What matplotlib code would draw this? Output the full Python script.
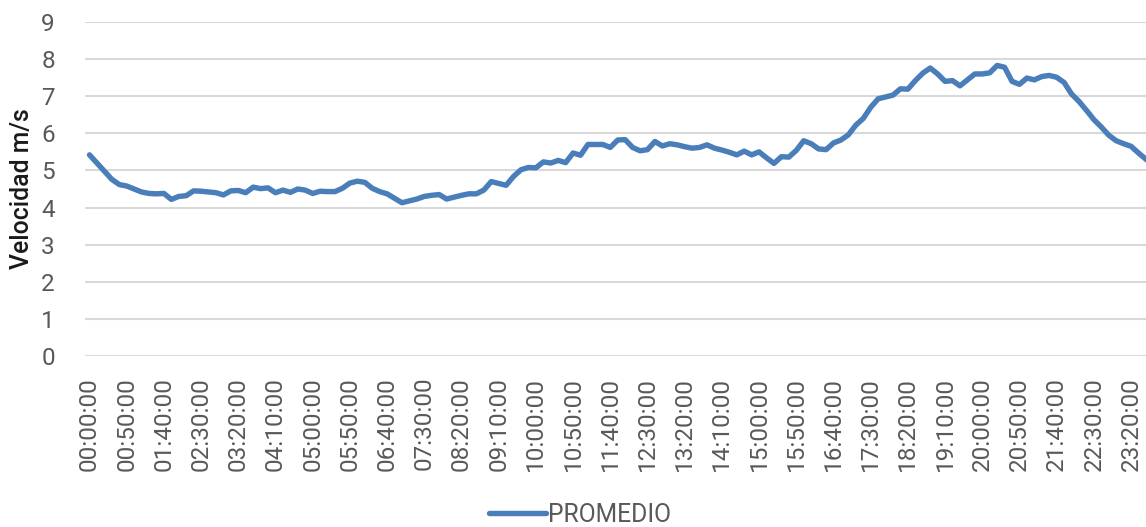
import matplotlib
matplotlib.use("Agg")
import matplotlib.pyplot as plt

plt.rcParams['font.family'] = ['Roboto', 'DejaVu Sans']

# 10-minute averages of wind speed (m/s), 00:00 .. 23:50
promedio = [
    5.42, 5.20, 4.98, 4.76, 4.62, 4.58, 4.50, 4.42, 4.38, 4.37,
    4.38, 4.22, 4.30, 4.32, 4.45, 4.44, 4.42, 4.40, 4.34, 4.45,
    4.46, 4.40, 4.55, 4.51, 4.53, 4.40, 4.47, 4.41, 4.50, 4.47,
    4.38, 4.44, 4.43, 4.43, 4.52, 4.66, 4.71, 4.68, 4.52, 4.43,
    4.37, 4.25, 4.13, 4.18, 4.23, 4.30, 4.33, 4.35, 4.23, 4.28,
    4.33, 4.37, 4.37, 4.47, 4.70, 4.65, 4.60, 4.84, 5.02, 5.08,
    5.07, 5.23, 5.20, 5.27, 5.21, 5.47, 5.41, 5.70, 5.70, 5.70,
    5.62, 5.82, 5.83, 5.62, 5.53, 5.56, 5.78, 5.66, 5.72, 5.69,
    5.64, 5.60, 5.62, 5.69, 5.60, 5.55, 5.49, 5.42, 5.52, 5.42,
    5.50, 5.34, 5.19, 5.37, 5.36, 5.54, 5.80, 5.72, 5.58, 5.56,
    5.74, 5.82, 5.96, 6.22, 6.40, 6.70, 6.93, 6.98, 7.03, 7.20,
    7.19, 7.42, 7.62, 7.76, 7.60, 7.40, 7.42, 7.28, 7.44, 7.60,
    7.60, 7.63, 7.83, 7.78, 7.40, 7.32, 7.49, 7.44, 7.53, 7.56,
    7.51, 7.37, 7.06, 6.86, 6.62, 6.37, 6.17, 5.95, 5.80, 5.72,
    5.65, 5.47, 5.30, 5.15,
]
times = [f"{(i * 10) // 60:02d}:{(i * 10) % 60:02d}:00" for i in range(len(promedio))]
y_ticks = [0, 1, 2, 3, 4, 5, 6, 7, 8, 9]
series_name = "PROMEDIO"
y_label = "Velocidad m/s"

W, H = 1146, 527
fig = plt.figure(figsize=(W / 100, H / 100), dpi=100)
left_px, right_px = 85.4, 1153.4
bottom_px, top_px = 356, 22
ax = fig.add_axes([left_px / W, (H - bottom_px) / H,
                   (right_px - left_px) / W, (bottom_px - top_px) / H])

x = list(range(len(promedio)))
line, = ax.plot(x, promedio, color='#4a7ebb', lw=3.9, solid_joinstyle='round',
                solid_capstyle='round', label=series_name, zorder=3)

ax.set_xlim(-0.55, len(promedio) - 1)
ax.set_ylim(0, 9)
ax.set_yticks(y_ticks)
ax.set_yticklabels([str(v) for v in y_ticks])
ax.set_xticks(x[::5])
ax.set_xticklabels(times[::5], rotation=90)

ax.grid(axis='y', color='#d9d9d9', lw=1.5, zorder=0)
ax.set_axisbelow(True)
for s in ax.spines.values():
    s.set_visible(False)
ax.tick_params(axis='both', length=0, labelsize=17.5, labelcolor='#595959')
ax.tick_params(axis='y', pad=22)
ax.tick_params(axis='x', pad=15)

fig.text(22 / W, 1 - 189 / H, y_label, rotation=90, ha='center', va='center',
         fontsize=17.8, color='#1a1a1a', fontweight='medium')

fig.legend(handles=[line], loc='center', bbox_to_anchor=(580 / W, 1 - 515 / H),
           frameon=False, fontsize=17.8, labelcolor='#595959',
           handlelength=2.3, handletextpad=0.08, borderaxespad=0, borderpad=0)

fig.savefig("out.png", dpi=100)
